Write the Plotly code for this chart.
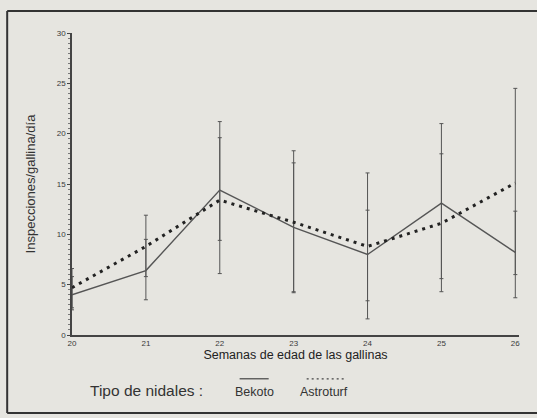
import plotly.graph_objects as go

weeks = [20, 21, 22, 23, 24, 25, 26]
bekoto = [4.0, 6.4, 14.4, 10.7, 8.0, 13.1, 8.2]
bekoto_hi = [5.8, 9.5, 21.2, 17.1, 16.1, 21.0, 12.3]
bekoto_lo = [2.5, 3.5, 6.1, 4.3, 1.6, 4.3, 3.7]
astro = [4.7, 8.8, 13.4, 11.2, 8.8, 11.1, 15.1]
astro_hi = [6.6, 11.9, 19.6, 18.3, 12.4, 18.0, 24.5]
astro_lo = [2.7, 5.8, 9.4, 4.2, 3.4, 5.6, 6.0]
y_ticks = [0, 5, 10, 15, 20, 25, 30]

BG = "#e6e5e0"
INK = "#3a3a3a"
FONT = "Liberation Sans, Arial, sans-serif"

def err(vals, hi, lo):
    return dict(type="data", symmetric=False,
                array=[h - v for h, v in zip(hi, vals)],
                arrayminus=[v - l for v, l in zip(vals, lo)],
                color="#555555", thickness=1, width=2)

fig = go.Figure()
fig.add_trace(go.Scatter(x=weeks, y=bekoto, mode="lines", name="Bekoto",
                         line=dict(color="#555555", width=1.4),
                         error_y=err(bekoto, bekoto_hi, bekoto_lo),
                         showlegend=False))
fig.add_trace(go.Scatter(x=weeks, y=astro, mode="lines", name="Astroturf",
                         line=dict(color="#222222", width=3, dash="3px,5px"),
                         error_y=err(astro, astro_hi, astro_lo),
                         showlegend=False))

fig.update_layout(
    width=537, height=418,
    margin=dict(l=72, r=18, t=33, b=83),
    paper_bgcolor=BG, plot_bgcolor=BG,
    font=dict(family=FONT, color=INK),
    xaxis=dict(range=[20, 26.05], tickvals=weeks, ticktext=[str(w) for w in weeks],
               showgrid=False, zeroline=False, showline=True, linecolor="#444444",
               linewidth=1.5, ticks="", tickfont=dict(size=8, color=INK),
               title=dict(text="Semanas de edad de las gallinas",
                          font=dict(size=12.5, color="#222222"), standoff=3)),
    yaxis=dict(range=[0, 30], tickvals=y_ticks, showgrid=False, zeroline=False,
               showline=True, linecolor="#444444", linewidth=1.5,
               ticks="outside", ticklen=3, tickcolor="#444444",
               tickfont=dict(size=8, color=INK),
               minor=dict(dtick=0.5, ticks="outside", ticklen=2, tickcolor="#777777"),
               title=dict(text="Inspecciones/gallina/día",
                          font=dict(size=13, color="#333333"), standoff=18)),
)

# frame around the figure (top, left, bottom; right side runs off the page)
frame = dict(color="#333333", width=2)
fig.add_shape(type="line", xref="paper", yref="paper", x0=-0.145, x1=1.1,
              y0=1.073, y1=1.073, line=frame)
fig.add_shape(type="line", xref="paper", yref="paper", x0=-0.145, x1=-0.145,
              y0=-0.258, y1=1.073, line=frame)
fig.add_shape(type="line", xref="paper", yref="paper", x0=-0.145, x1=1.1,
              y0=-0.258, y1=-0.258, line=frame)

# legend drawn as annotations
fig.add_annotation(x=0.036, y=-0.185, xref="paper", yref="paper", xanchor="left",
                   yanchor="middle", text="Tipo de nidales :", showarrow=False,
                   font=dict(size=15.5, color="#333333"))
fig.add_annotation(x=0.36, y=-0.188, xref="paper", yref="paper", xanchor="left",
                   yanchor="middle", text="Bekoto", showarrow=False,
                   font=dict(size=12.5, color="#333333"))
fig.add_annotation(x=0.505, y=-0.188, xref="paper", yref="paper", xanchor="left",
                   yanchor="middle", text="Astroturf", showarrow=False,
                   font=dict(size=12.5, color="#333333"))
fig.add_shape(type="line", xref="paper", yref="paper", x0=0.375, x1=0.44,
              y0=-0.145, y1=-0.145, line=dict(color="#444444", width=1.2))
fig.add_shape(type="line", xref="paper", yref="paper", x0=0.525, x1=0.61,
              y0=-0.145, y1=-0.145, line=dict(color="#444444", width=1.2, dash="2px,3px"))

fig.write_html("out.html", config={"displayModeBar": False},
               post_script="document.body.style.margin='0';document.body.style.overflow='hidden';")
